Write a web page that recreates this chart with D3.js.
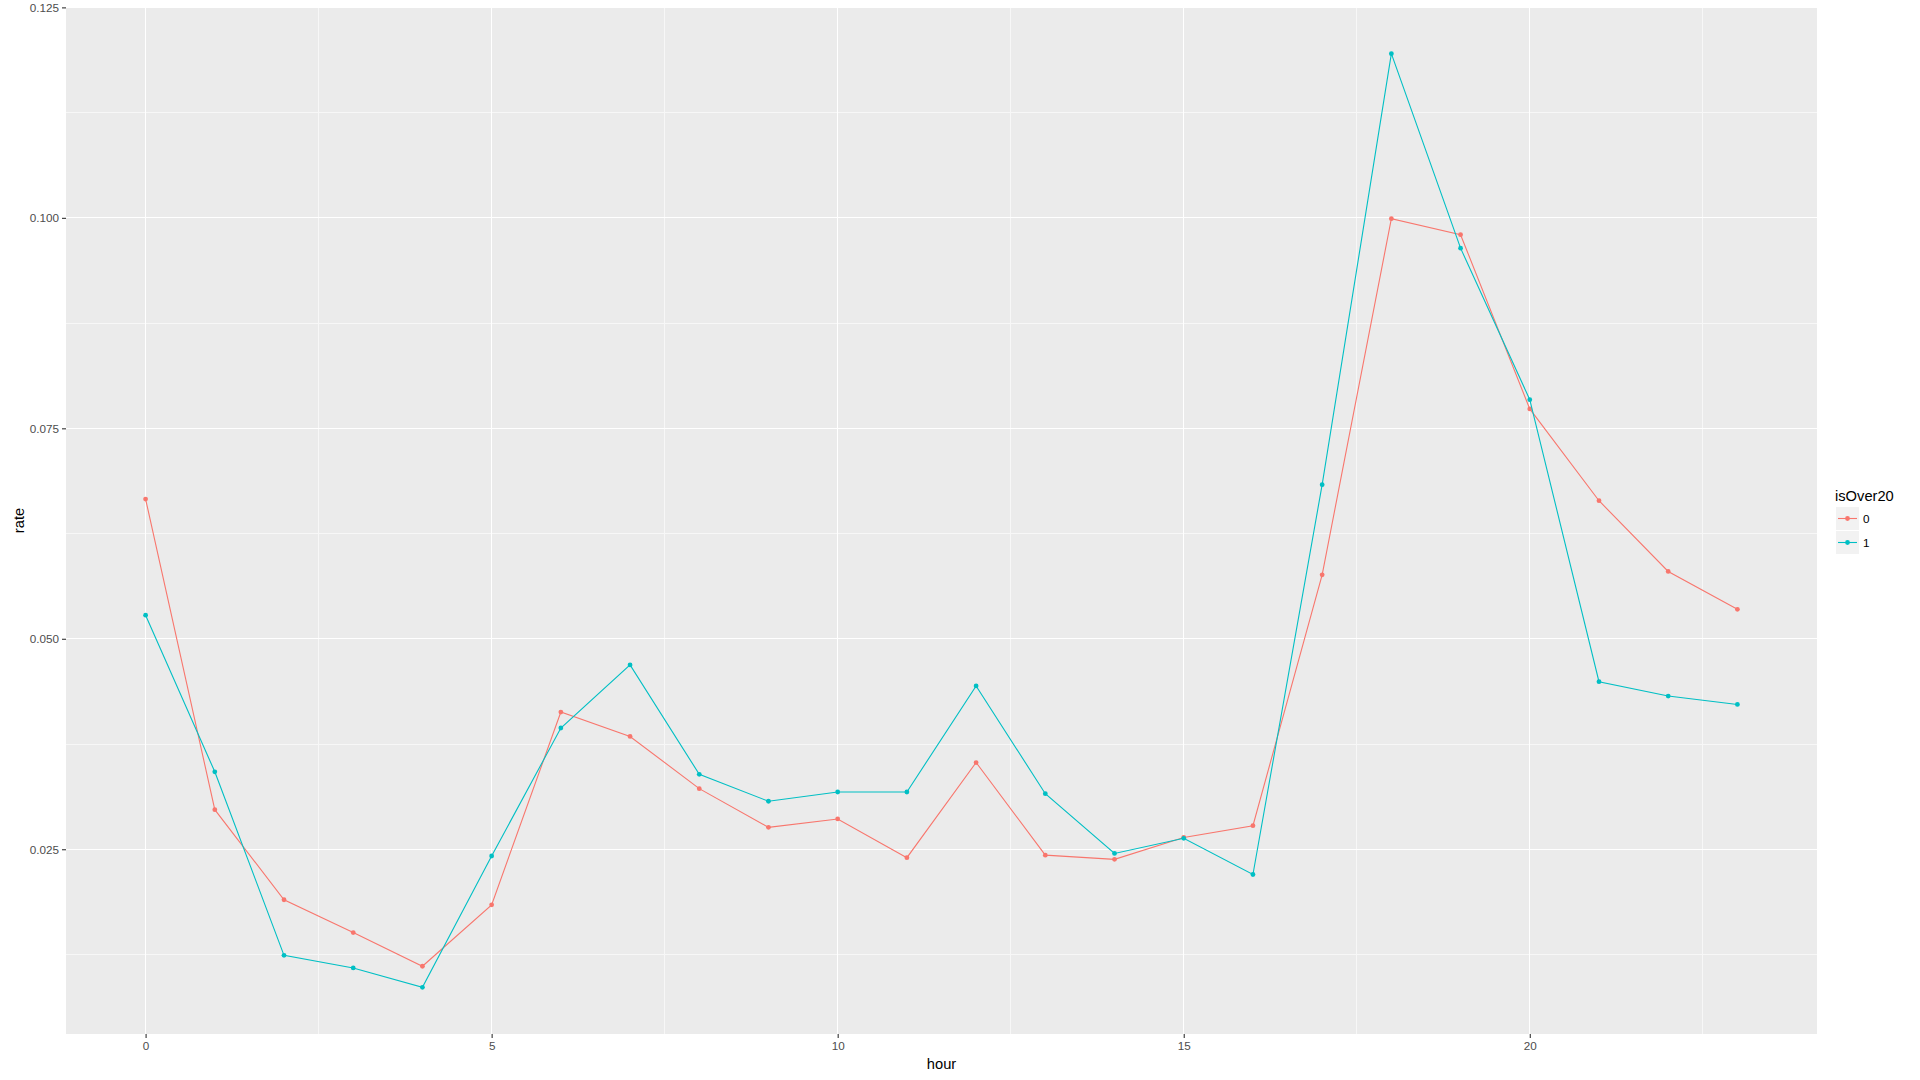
<html>
  <head>
    <title>rate by hour</title>
    <style>
      body { margin: 0; background: #fff; }
      text { font-family: Arial, "Liberation Sans", sans-serif; }
      .grid line { shape-rendering: crispEdges; }
    </style>
  </head>
  <body>
    <div id="chart"></div>
    <script src="https://cdnjs.cloudflare.com/ajax/libs/d3/7.8.5/d3.min.js"></script>
    <script>
      var hours = d3.range(0, 24);

      // isOver20 = 0
      var rate0 = [0.0666, 0.0297, 0.0190, 0.0151, 0.0111, 0.0184, 0.0413, 0.0384,
                   0.0322, 0.0276, 0.0286, 0.0240, 0.0353, 0.0243, 0.0238, 0.0264,
                   0.0278, 0.0576, 0.0999, 0.0980, 0.0773, 0.0664, 0.0580, 0.0535];
      // isOver20 = 1
      var rate1 = [0.0528, 0.0342, 0.0124, 0.0109, 0.0086, 0.0242, 0.0394, 0.0469,
                   0.0339, 0.0307, 0.0318, 0.0318, 0.0444, 0.0316, 0.0245, 0.0263,
                   0.0220, 0.0683, 0.1195, 0.0964, 0.0784, 0.0449, 0.0432, 0.0422];

      var groups = ["0", "1"];
      var colors = ["#F8766D", "#00BFC4"];

      var xTicks = [0, 5, 10, 15, 20];
      var xMinor = [2.5, 7.5, 12.5, 17.5, 22.5];
      var yTicks = [0.025, 0.050, 0.075, 0.100, 0.125];
      var yMinor = [0.0125, 0.0375, 0.0625, 0.0875, 0.1125];

      var width = 1920,
          height = 1080;

      var panel = { left: 66, right: 1817, top: 7, bottom: 1034 };

      var series = groups.map(function(g, i) {
        var vals = i == 0 ? rate0 : rate1;
        return { key: g, color: colors[i],
                 values: hours.map(function(h, j) { return { hour: h, rate: vals[j] }; }) };
      });

      // ggplot style 5% expansion
      var allRates = rate0.concat(rate1);
      var yExt = d3.extent(allRates);
      var yPad = (yExt[1] - yExt[0]) * 0.05;
      var xExt = d3.extent(hours);
      var xPad = (xExt[1] - xExt[0]) * 0.05;

      var x = d3.scaleLinear()
                .domain([xExt[0] - xPad, xExt[1] + xPad])
                .range([panel.left, panel.right]);

      var y = d3.scaleLinear()
                .domain([yExt[0] - yPad, yExt[1] + yPad])
                .range([panel.bottom, panel.top]);

      var svg = d3.select("#chart")
                  .append("svg")
                  .attr("width", width)
                  .attr("height", height);

      svg.append("rect")
         .attr("x", panel.left)
         .attr("y", panel.top)
         .attr("width", panel.right - panel.left)
         .attr("height", panel.bottom - panel.top)
         .attr("fill", "#EBEBEB");

      //grid
      var grid = svg.append("g").attr("class", "grid");

      grid.selectAll(".hminor")
          .data(yMinor)
          .enter().append("line")
          .attr("x1", panel.left).attr("x2", panel.right)
          .attr("y1", function(d) { return y(d); })
          .attr("y2", function(d) { return y(d); })
          .attr("stroke", "#F7F7F7").attr("stroke-width", 1);

      grid.selectAll(".vminor")
          .data(xMinor)
          .enter().append("line")
          .attr("y1", panel.top).attr("y2", panel.bottom)
          .attr("x1", function(d) { return x(d); })
          .attr("x2", function(d) { return x(d); })
          .attr("stroke", "#F7F7F7").attr("stroke-width", 1);

      grid.selectAll(".hmajor")
          .data(yTicks)
          .enter().append("line")
          .attr("x1", panel.left).attr("x2", panel.right)
          .attr("y1", function(d) { return y(d); })
          .attr("y2", function(d) { return y(d); })
          .attr("stroke", "#fff").attr("stroke-width", 1);

      grid.selectAll(".vmajor")
          .data(xTicks)
          .enter().append("line")
          .attr("y1", panel.top).attr("y2", panel.bottom)
          .attr("x1", function(d) { return x(d); })
          .attr("x2", function(d) { return x(d); })
          .attr("stroke", "#fff").attr("stroke-width", 1);

      //axes
      var xAxis = d3.axisBottom(x)
                    .tickValues(xTicks)
                    .tickSize(4)
                    .tickPadding(4)
                    .tickFormat(d3.format("d"));

      var yAxis = d3.axisLeft(y)
                    .tickValues(yTicks)
                    .tickSize(4)
                    .tickPadding(3)
                    .tickFormat(d3.format(".3f"));

      svg.append("g")
         .attr("class", "x axis")
         .attr("transform", "translate(0," + panel.bottom + ")")
         .call(xAxis);

      svg.append("g")
         .attr("class", "y axis")
         .attr("transform", "translate(" + panel.left + ",0)")
         .call(yAxis);

      svg.selectAll(".axis .domain").remove();
      svg.selectAll(".axis .tick line").attr("stroke", "#333333").attr("stroke-width", 1.1);
      svg.selectAll(".axis .tick text")
         .attr("fill", "#4D4D4D")
         .style("font-size", "11.7px")
         .style("font-family", "Arial, 'Liberation Sans', sans-serif");

      svg.append("text")
         .attr("x", (panel.left + panel.right) / 2)
         .attr("y", 1069)
         .attr("text-anchor", "middle")
         .style("font-size", "14.7px")
         .text("hour");

      svg.append("text")
         .attr("transform", "translate(24," + ((panel.top + panel.bottom) / 2) + ") rotate(-90)")
         .attr("text-anchor", "middle")
         .style("font-size", "14.7px")
         .text("rate");

      //lines and points
      var line = d3.line()
                   .x(function(d) { return x(d.hour); })
                   .y(function(d) { return y(d.rate); });

      var lines = svg.append("g").attr("class", "series")
                     .selectAll("g")
                     .data(series)
                     .enter().append("g");

      lines.append("path")
           .attr("d", function(d) { return line(d.values); })
           .attr("fill", "none")
           .attr("stroke", function(d) { return d.color; })
           .attr("stroke-width", 1.1);

      lines.selectAll("circle")
           .data(function(d) { return d.values.map(function(v) { return { hour: v.hour, rate: v.rate, color: d.color }; }); })
           .enter().append("circle")
           .attr("cx", function(d) { return x(d.hour); })
           .attr("cy", function(d) { return y(d.rate); })
           .attr("r", 2.4)
           .attr("fill", function(d) { return d.color; });

      //legend
      var legend = svg.append("g")
                      .attr("class", "legend")
                      .attr("transform", "translate(1835,0)");

      legend.append("text")
            .attr("x", 0)
            .attr("y", 501)
            .style("font-size", "14.7px")
            .text("isOver20");

      var keys = legend.selectAll(".key")
                       .data(series)
                       .enter().append("g")
                       .attr("class", "key")
                       .attr("transform", function(d, i) { return "translate(1," + (507 + i * 24) + ")"; });

      keys.append("rect")
          .attr("width", 23)
          .attr("height", 23)
          .attr("fill", "#F2F2F2");

      keys.append("line")
          .attr("x1", 2).attr("x2", 21)
          .attr("y1", 11.5).attr("y2", 11.5)
          .attr("stroke", function(d) { return d.color; })
          .attr("stroke-width", 1.1);

      keys.append("circle")
          .attr("cx", 11.5)
          .attr("cy", 11.5)
          .attr("r", 2.4)
          .attr("fill", function(d) { return d.color; });

      keys.append("text")
          .attr("x", 27)
          .attr("y", 11.5)
          .attr("dy", "0.36em")
          .style("font-size", "11.7px")
          .text(function(d) { return d.key; });
    </script>
  </body>
</html>
